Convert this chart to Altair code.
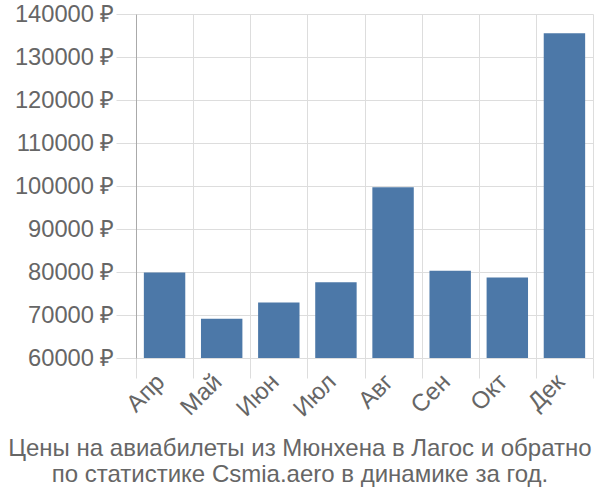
import altair as alt
import pandas as pd

months = ["Апр", "Май", "Июн", "Июл", "Авг", "Сен", "Окт", "Дек"]
prices = [79900, 69100, 72900, 77600, 99700, 80300, 78700, 135500]

df = pd.DataFrame({"month": months, "price": prices})

FONT = "Liberation Sans"
GRAY = "#666666"

chart = alt.Chart(df).mark_bar(
    color="#4c78a8", width=alt.RelativeBandSize(0.725), clip=True
).encode(
    x=alt.X("month:N", sort=months, title=None,
            scale=alt.Scale(paddingInner=0, paddingOuter=0),
            axis=alt.Axis(labelAngle=-45, labelFontSize=24, labelFont=FONT,
                          labelColor=GRAY, tickBand="extent", grid=True,
                          labelBaseline="middle", labelAlign="right",
                          gridColor="#dddddd", tickColor="#dddddd", tickSize=20,
                          domain=False, labelPadding=0, labelOffset=-4)),
    y=alt.Y("price:Q", title=None,
            scale=alt.Scale(domain=[60000, 140000], nice=False, zero=False),
            axis=alt.Axis(values=[60000, 70000, 80000, 90000, 100000, 110000, 120000, 130000, 140000],
                          labelExpr="datum.value + ' ₽'", labelFontSize=23.7, labelFont=FONT,
                          labelColor=GRAY, gridColor="#dddddd", tickColor="#dddddd",
                          tickSize=20, domainColor="#aaaaaa", labelPadding=2)),
).properties(
    width=457, height=344,
    autosize=alt.AutoSizeParams(type="none"),
    padding={"left": 136, "top": 14, "right": 7, "bottom": 142},
    title=alt.TitleParams(
        text=["Цены на авиабилеты из Мюнхена в Лагос и обратно",
              "по статистике Csmia.aero в динамике за год."],
        orient="bottom", anchor="middle", frame="bounds", font=FONT, fontSize=24,
        fontWeight="normal", color=GRAY, lineHeight=26, offset=16, dx=-4
    )
).configure_view(stroke=None)

chart.save("out.html", embed_options={"renderer": "svg", "actions": False})
